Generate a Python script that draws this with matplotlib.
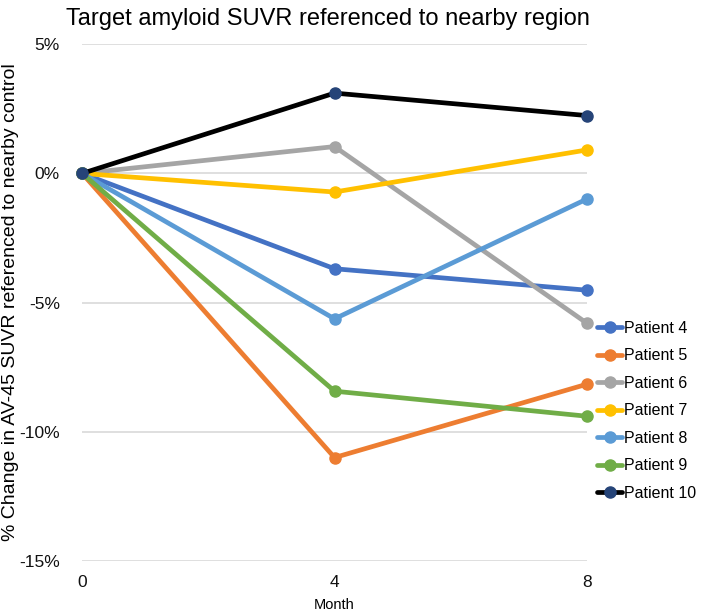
import matplotlib.pyplot as plt
from matplotlib.ticker import PercentFormatter

plt.rcParams['font.family'] = ['Liberation Sans', 'DejaVu Sans']
plt.rcParams['axes.unicode_minus'] = False

# --- DATA ---
months = [0, 4, 8]
patients = ['Patient 4', 'Patient 5', 'Patient 6', 'Patient 7',
            'Patient 8', 'Patient 9', 'Patient 10']
p4 = [0.0, -3.69, -4.52]
p5 = [0.0, -11.0, -8.16]
p6 = [0.0, 1.04, -5.8]
p7 = [0.0, -0.72, 0.91]
p8 = [0.0, -5.63, -0.99]
p9 = [0.0, -8.43, -9.4]
p10 = [0.0, 3.11, 2.24]
series = [p4, p5, p6, p7, p8, p9, p10]

line_colors = ['#4472C4', '#ED7D31', '#A5A5A5', '#FFC000', '#5B9BD5', '#70AD47', '#000000']
marker_colors = ['#4472C4', '#ED7D31', '#A5A5A5', '#FFC000', '#5B9BD5', '#70AD47', '#264478']

fig = plt.figure(figsize=(7.08, 6.15), dpi=100)
ax = fig.add_axes([0.116, 0.088, 0.713, 0.840])

for name, vals, lc, mc in zip(patients, series, line_colors, marker_colors):
    ax.plot(months, vals, color=lc, linewidth=3.4, marker='o', markersize=8,
            markerfacecolor=mc, markeredgecolor=mc, label=name, clip_on=False,
            solid_capstyle='round')

ax.set_xlim(0, 8)
ax.set_ylim(-15, 5)
ax.set_xticks(months)
ax.set_yticks([-15, -10, -5, 0, 5])
ax.yaxis.set_major_formatter(PercentFormatter(decimals=0))
ax.grid(axis='y', color='#D9D9D9', linewidth=1.2)
ax.set_axisbelow(True)
for s in ax.spines.values():
    s.set_visible(False)
ax.tick_params(axis='both', length=0, labelsize=12.5, colors='#111111')
ax.tick_params(axis='y', pad=16)
ax.tick_params(axis='x', pad=10)

ax.set_title('Target amyloid SUVR referenced to nearby region', fontsize=17, pad=14, x=0.487)
ax.set_xlabel('Month', fontsize=10.5, labelpad=6)
ax.set_ylabel('% Change in AV-45 SUVR referenced to nearby control', fontsize=14, labelpad=0)

fig.legend(loc='center left', bbox_to_anchor=(0.843, 0.332), frameon=False,
           fontsize=11.5, handlelength=1.6, handletextpad=0.1, labelspacing=0.78,
           borderaxespad=0, borderpad=0)

fig.savefig('out.png', dpi=100)
